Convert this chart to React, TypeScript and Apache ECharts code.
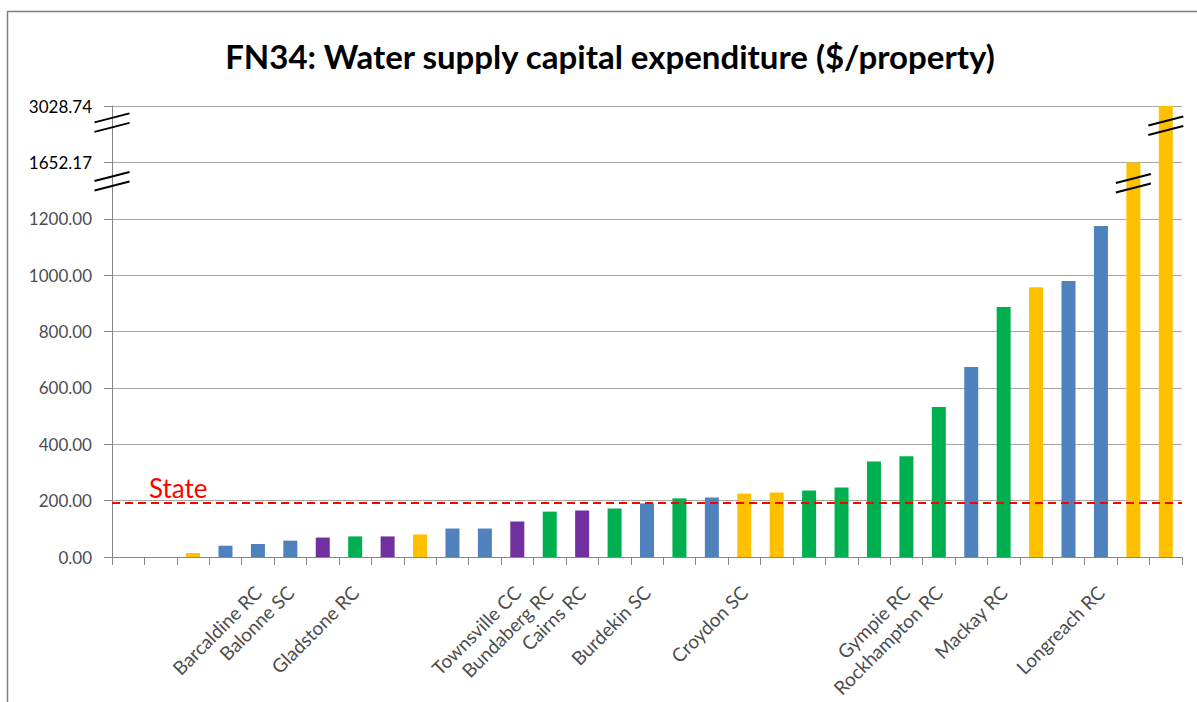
import React, { useEffect, useRef } from "react";
import * as echarts from "echarts";

// Categories (only some councils are labelled in the source chart)
const categories: string[] = [
  "", "", "", "", "Barcaldine RC", "Balonne SC", "", "Gladstone RC", "", "", "", "",
  "Townsville CC", "Bundaberg RC", "Cairns RC", "", "Burdekin SC", "", "", "Croydon SC",
  "", "", "", "", "Gympie RC", "Rockhampton RC", "", "Mackay RC", "", "", "Longreach RC", "", "",
];

// $/property
const values: (number | null)[] = [
  null, null, 14, 40, 46, 58, 69, 73, 73, 80, 101, 101, 126, 161, 165, 172, 190, 208, 211,
  225, 229, 236, 247, 339, 357, 532, 674, 887, 957, 979, 1174, 1652.17, 3028.74,
];

// Comparator group of each bar: Y = yellow, B = blue, P = purple, G = green
const groups: string[] = [
  "", "", "Y", "B", "B", "B", "P", "G", "P", "Y", "B", "B", "P", "G", "P", "G", "B", "G", "B",
  "Y", "Y", "G", "G", "G", "G", "G", "B", "G", "Y", "B", "B", "Y", "Y",
];

const stateValue = 192;

// Broken-axis tick labels
const yTickValues = [0, 200, 400, 600, 800, 1000, 1200, 1652.17, 3028.74];

const groupColors: Record<string, string> = {
  Y: "#FFC000",
  B: "#4F81BD",
  P: "#7030A0",
  G: "#00B050",
};

// Broken axis mapping: real value -> display value
const BREAK1 = 1200;
const BREAK2 = 1652.17;
const TOP = 3028.74;
function toDisplay(v: number): number {
  if (v <= BREAK1) return v;
  if (v <= BREAK2) return BREAK1 + ((v - BREAK1) / (BREAK2 - BREAK1)) * 200;
  return 1400 + ((v - BREAK2) / (TOP - BREAK2)) * 200;
}

// Break marks: [category index, display value, onAxis flag]
const breakMarks: [number, number, number][] = [
  [0, 1334, 1],
  [0, 1542, 1],
  [31, 1327, 0],
  [32, 1531, 0],
];

export default function App() {
  const ref = useRef<HTMLDivElement>(null);
  useEffect(() => {
    if (!ref.current) return;
    const chart = echarts.init(ref.current, undefined, { renderer: "svg" });
    const font = "Lato";
    const option: any = {
      animation: false,
      backgroundColor: "#ffffff",
      title: {
        text: "FN34: Water supply capital expenditure ($/property)",
        left: 605,
        top: 34,
        textAlign: "center",
        textStyle: { fontFamily: font, fontSize: 33, fontWeight: "bold", color: "#000000" },
      },
      graphic: [
        {
          type: "rect",
          shape: { x: 7.5, y: 11.5, width: 1300, height: 800 },
          style: { fill: "none", stroke: "#7f7f7f", lineWidth: 1.5 },
          silent: true,
        },
      ],
      grid: { left: 112, right: 15, top: 106, bottom: 145, containLabel: false },
      xAxis: {
        type: "category",
        data: categories,
        boundaryGap: true,
        axisLine: { lineStyle: { color: "#868686", width: 1 } },
        axisTick: { show: true, length: 8, alignWithLabel: false, interval: 0, lineStyle: { color: "#868686" } },
        axisLabel: {
          interval: 0,
          rotate: 45,
          margin: 32,
          color: "#4d4d4d",
          fontSize: 19,
          fontFamily: font,
        },
        splitLine: { show: false },
      },
      yAxis: {
        type: "value",
        min: 0,
        max: 1600,
        interval: 200,
        axisLine: { show: true, lineStyle: { color: "#868686", width: 1 } },
        axisTick: { show: true, length: 8, lineStyle: { color: "#868686" } },
        splitLine: { show: true, lineStyle: { color: "#a6a6a6", width: 1 } },
        axisLabel: {
          margin: 20,
          fontSize: 17,
          fontFamily: font,
          color: (v: number) => (v > 1200 ? "#000000" : "#4d4d4d"),
          formatter: (v: number) => {
            const idx = Math.round(v / 200);
            const real = yTickValues[idx];
            return real !== undefined ? real.toFixed(2) : "";
          },
        },
      },
      series: [
        {
          type: "bar",
          barWidth: 14,
          data: values.map((v, i) => ({
            value: v === null ? null : toDisplay(v),
            itemStyle: { color: groupColors[groups[i]] || "#4F81BD" },
          })),
          markLine: {
            silent: true,
            symbol: "none",
            data: [{ yAxis: stateValue }],
            lineStyle: { color: "#FF0000", type: [8, 5], width: 2 },
            label: {
              show: true,
              formatter: "State",
              position: "insideStartTop",
              distance: 2,
              color: "#FF0000",
              fontSize: 26,
              fontFamily: font,
              padding: [0, 0, 0, 35],
            },
          },
        },
        {
          type: "custom",
          silent: true,
          clip: false,
          z: 10,
          data: breakMarks,
          renderItem: (params: any, api: any) => {
            const p = api.coord([api.value(0), api.value(1)]);
            let cx = p[0];
            const cy = p[1];
            if (api.value(2) === 1) cx = p[0] - api.size([1, 0])[0] / 2;
            const style = { stroke: "#000000", lineWidth: 2 };
            return {
              type: "group",
              children: [
                { type: "line", shape: { x1: cx - 17.5, y1: cy, x2: cx + 17.5, y2: cy - 9 }, style },
                { type: "line", shape: { x1: cx - 17.5, y1: cy + 9.5, x2: cx + 17.5, y2: cy + 0.5 }, style },
              ],
            };
          },
        },
      ],
    };
    chart.setOption(option);
    return () => chart.dispose();
  }, []);
  return (
    <div
      ref={ref}
      style={{ position: "fixed", left: 0, top: 0, width: 1197, height: 702 }}
    />
  );
}
